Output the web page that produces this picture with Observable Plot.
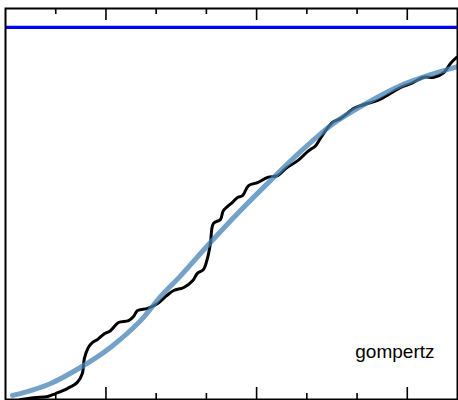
<!DOCTYPE html>
<html>
<head>
<meta charset="utf-8">
<script src="https://cdn.jsdelivr.net/npm/d3@7"></script>
<script src="https://cdn.jsdelivr.net/npm/@observablehq/plot@0.6"></script>
<style>
  html, body { margin: 0; padding: 0; background: #fff; }
  #chart svg { display: block; }
</style>
</head>
<body>
<div id="chart"></div>
<script>
// Observed (noisy) series
const obsX = [0.30, 0.56, 0.84, 1.00, 1.24, 1.43, 1.53, 1.57, 1.65, 1.73, 1.83, 1.95, 2.09, 2.25, 2.45, 2.55, 2.63, 2.83, 3.03, 3.19, 3.35, 3.55, 3.73, 3.82, 3.94, 4.02, 4.08, 4.14, 4.28, 4.34, 4.52, 4.62, 4.72, 4.84, 5.02, 5.22, 5.42, 5.58, 5.82, 6.02, 6.18, 6.27, 6.51, 6.67, 6.93, 7.07, 7.41, 7.53, 7.87, 8.07, 8.33, 8.53, 8.73, 8.86, 8.96, 9.02];
const obsY = [0.000, 0.005, 0.008, 0.016, 0.030, 0.046, 0.070, 0.110, 0.140, 0.153, 0.161, 0.175, 0.185, 0.207, 0.212, 0.223, 0.239, 0.245, 0.258, 0.277, 0.293, 0.301, 0.320, 0.339, 0.349, 0.379, 0.419, 0.473, 0.484, 0.508, 0.530, 0.543, 0.548, 0.575, 0.583, 0.597, 0.602, 0.621, 0.642, 0.667, 0.683, 0.702, 0.745, 0.755, 0.782, 0.790, 0.804, 0.812, 0.839, 0.849, 0.866, 0.866, 0.879, 0.903, 0.917, 0.922];

// Fitted gompertz curve
const fitX = [0.14, 0.50, 0.90, 1.49, 2.09, 2.69, 3.09, 3.49, 4.08, 4.68, 5.28, 5.88, 6.53, 7.21, 7.87, 8.53, 9.00];
const fitY = [0.011, 0.024, 0.043, 0.086, 0.140, 0.212, 0.277, 0.333, 0.422, 0.508, 0.589, 0.667, 0.742, 0.798, 0.844, 0.876, 0.895];

// Asymptote level
const asymptote = [1];

// Tick positions
const majorTicks = [2, 5, 8];
const minorTicks = [1, 3, 4, 6, 7];

const labelText = ["gompertz"];

const obs = obsX.map((x, i) => ({x, y: obsY[i]}));
const fit = fitX.map((x, i) => ({x, y: fitY[i]}));

const W = 458, H = 400;
const mt = 8, mb = 1, ml = 5, mr = 1;
const innerH = H - mt - mb;
const majorLen = 12, minorLen = 6;

const chart = Plot.plot({
  width: W,
  height: H,
  marginTop: mt,
  marginBottom: mb,
  marginLeft: ml,
  marginRight: mr,
  style: {fontFamily: "'Liberation Sans', Arial, Helvetica, sans-serif", background: "#fff"},
  x: {domain: [0, 9], axis: null},
  y: {domain: [0, 1.051], axis: null},
  marks: [
    Plot.ruleY(asymptote, {y: d => d, stroke: "#0000ff", strokeWidth: 3.2}),
    Plot.line(obs, {x: "x", y: "y", stroke: "#000", strokeWidth: 3, curve: "catmull-rom", clip: true}),
    Plot.line(fit, {x: "x", y: "y", stroke: "steelblue", strokeOpacity: 0.75, strokeWidth: 5, curve: "catmull-rom", clip: true}),
    // top ticks (inward)
    Plot.tickX(majorTicks, {x: d => d, stroke: "#000", strokeWidth: 1.6, insetBottom: innerH - majorLen}),
    Plot.tickX(minorTicks, {x: d => d, stroke: "#000", strokeWidth: 1.6, insetBottom: innerH - minorLen}),
    // bottom ticks (inward)
    Plot.tickX(majorTicks, {x: d => d, stroke: "#000", strokeWidth: 1.6, insetTop: innerH - majorLen}),
    Plot.tickX(minorTicks, {x: d => d, stroke: "#000", strokeWidth: 1.6, insetTop: innerH - minorLen}),
    Plot.frame({stroke: "#000", strokeWidth: 2}),
    Plot.text(labelText, {text: d => d, frameAnchor: "bottom-right", textAnchor: "end", dx: -23, dy: -42, fontSize: 19, fill: "#000"})
  ]
});

document.getElementById("chart").appendChild(chart);
</script>
</body>
</html>
